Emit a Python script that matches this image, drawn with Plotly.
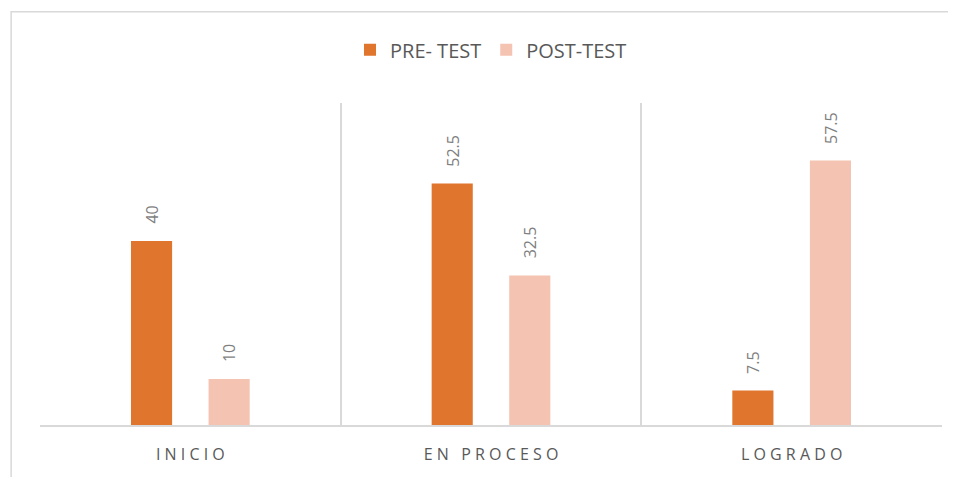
import plotly.graph_objects as go

# Data
categories = ['INICIO', 'EN PROCESO', 'LOGRADO']
pre_test = [40, 52.5, 7.5]
post_test = [10, 32.5, 57.5]
series_names = ['PRE- TEST', 'POST-TEST']
colors = ['#E0752D', '#F5C3B2']

TEXT_GRAY = '#595959'
LABEL_GRAY = '#7F7F7F'
LINE_GRAY = '#D9D9D9'


def spaced(label):
    # Excel-style letter spacing on the category labels
    return ' '.join(list(label))


fig = go.Figure()

for name, values, color in zip(series_names, [pre_test, post_test], colors):
    fig.add_trace(go.Bar(
        name=name,
        x=categories,
        y=values,
        marker=dict(color=color, line=dict(width=0)),
    ))

# rotated value labels above each bar
offsets = [-0.129, 0.129]
for off, values in zip(offsets, [pre_test, post_test]):
    for i, v in enumerate(values):
        fig.add_annotation(
            x=i + off, y=v, xref='x', yref='y',
            text=f'{v:g}', textangle=-90,
            showarrow=False, yanchor='bottom', yshift=15,
            font=dict(family='Open Sans', size=16, color=LABEL_GRAY),
        )

# page body has an 8px default margin, so plot box is offset to compensate
# plot area: 902 x 322 px
fig.add_shape(
    type='rect', xref='paper', yref='paper',
    x0=-0.032, x1=1.2, y0=-0.5, y1=1.283,
    line=dict(color=LINE_GRAY, width=1.5), fillcolor='rgba(0,0,0,0)',
    layer='below',
)

fig.update_layout(
    width=956, height=477,
    margin=dict(l=32, r=22, t=95, b=60),
    barmode='group',
    bargap=0.484,
    bargroupgap=0.47,
    plot_bgcolor='white',
    paper_bgcolor='white',
    font=dict(family='Open Sans', size=15, color=TEXT_GRAY),
    legend=dict(
        orientation='h', x=0.5, xanchor='center', y=1.165, yanchor='middle',
        font=dict(size=20, color=TEXT_GRAY),
        itemwidth=30,
    ),
    xaxis=dict(
        type='category',
        tickson='boundaries',
        tickmode='array',
        tickvals=categories,
        ticktext=[spaced(c) for c in categories],
        showgrid=True, gridcolor=LINE_GRAY, gridwidth=1.5,
        showline=True, linecolor=LINE_GRAY, linewidth=1.5,
        ticks='', ticklen=0,
        ticklabelstandoff=14,
        tickfont=dict(size=16, color=TEXT_GRAY),
        range=[-0.5, 2.5],
    ),
    yaxis=dict(
        range=[0, 70],
        showgrid=False, zeroline=False, showticklabels=False,
        showline=False,
    ),
)

fig.write_html('out.html')
